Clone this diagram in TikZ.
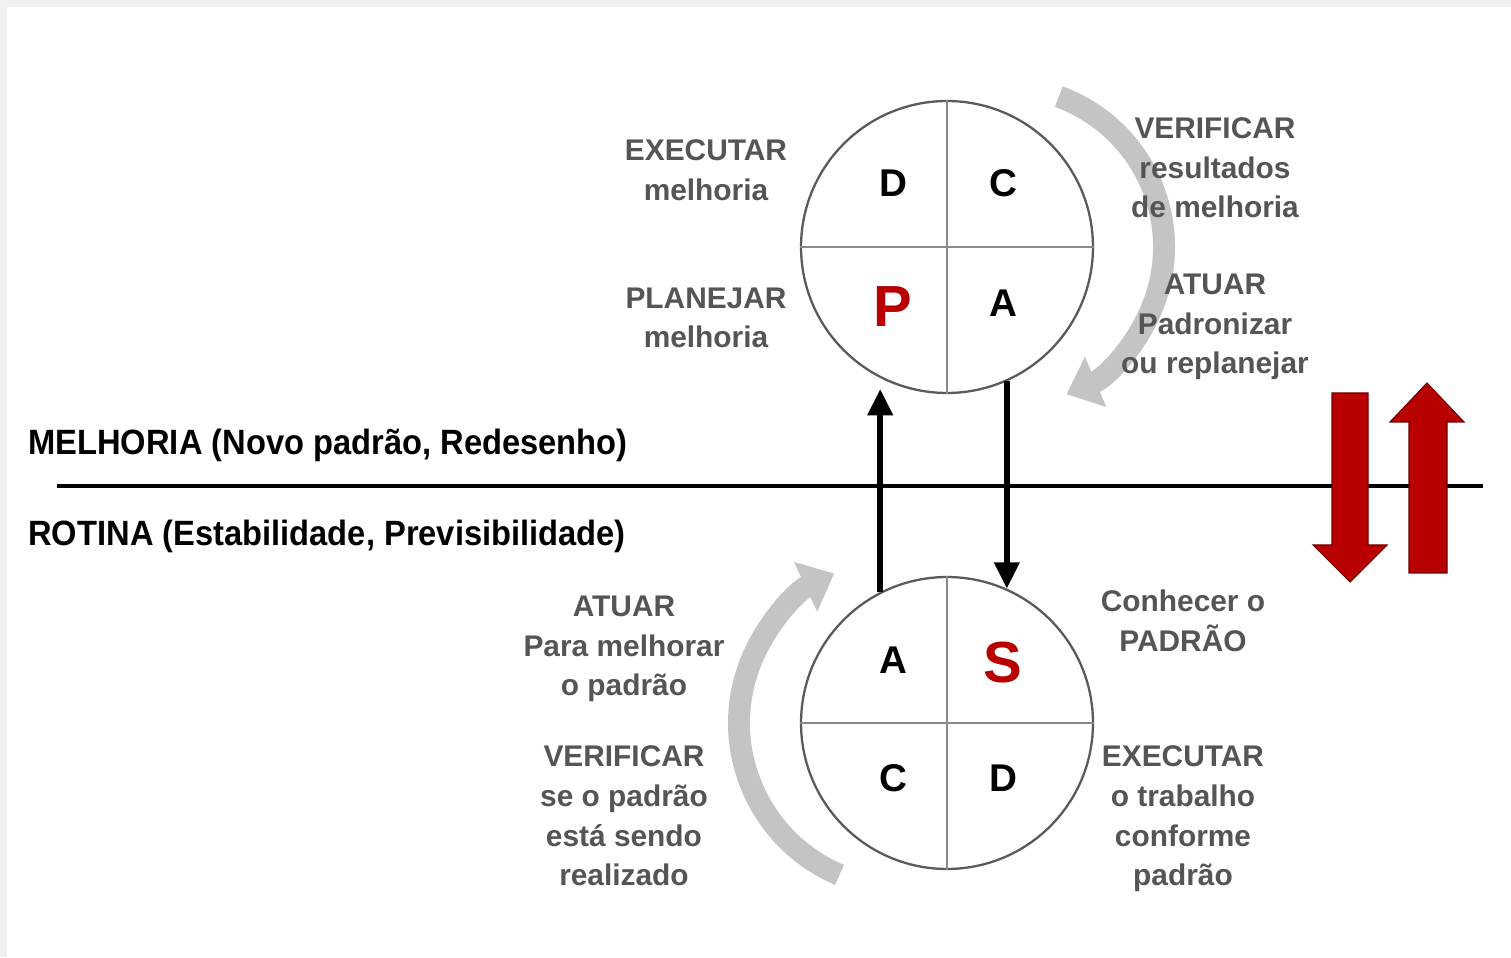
\documentclass[tikz,border=0pt]{standalone}
\usepackage{fontspec}
\setmainfont{Liberation Sans}
\newfontfamily\narrowfont{Liberation Sans}[FakeStretch=0.93]
\usetikzlibrary{arrows.meta}
\definecolor{txtgray}{HTML}{555555}
\definecolor{rimgray}{HTML}{5A5A5A}
\definecolor{linegray}{HTML}{8A8A8A}
\definecolor{swooshgray}{HTML}{C4C4C4}
\definecolor{darkred}{HTML}{B80000}
\definecolor{redline}{HTML}{6E0000}
\definecolor{pagegray}{HTML}{F0F0F0}

\begin{document}
\begin{tikzpicture}[
        x=0.02cm, y=0.02cm,
        >={Triangle[width=14pt,length=15pt]},
        cycle/.style={circle, draw=rimgray, line width=1.3pt, minimum size=5.84cm, inner sep=0pt},
        quad/.style={draw=linegray, line width=0.9pt},
        letter/.style={font=\bfseries\fontsize{22}{26}\selectfont, inner sep=0pt},
        bigletter/.style={font=\bfseries\fontsize{33}{36}\selectfont, text=darkred, inner sep=0pt},
        lbl/.style={font=\bfseries\fontsize{17}{22.6}\selectfont, text=txtgray, align=center, inner sep=0pt},
        level/.style={font=\narrowfont\bfseries\fontsize{20}{24}\selectfont, anchor=base west, inner sep=0pt},
        swoosh/.style={draw=swooshgray, line width=12.5pt, -{Triangle[width=30pt,length=18pt]}},
        jump/.style={->, line width=3.2pt},
        block/.style={fill=darkred, draw=redline, line width=0.6pt}
        ]
        \useasboundingbox (0,0) rectangle (1511,957);
        \fill[pagegray] (0,0) rectangle (1511,957);
        \fill[white] (7,0) rectangle (1511,950);

        % grey turning arrows
        \coordinate (pturn) at (1004,710);
        \coordinate (sturn) at (904,234);
        \draw[swoosh] (pturn) ++(70:160) arc[start angle=70, end angle=-67, radius=3.2cm];
        \draw[swoosh] (sturn) ++(247:165) arc[start angle=247, end angle=115, radius=3.3cm];

        % divider
        \coordinate (divL) at (57,471);
        \coordinate (divR) at (1483,471);
        \draw[line width=2.1pt] (divL) -- (divR);
        \node[level] (melhoria) at (28,502) {MELHORIA (Novo padrão, Redesenho)};
        \node[level] (rotina) at (28,411) {ROTINA (Estabilidade, Previsibilidade)};

        % the two cycles
        \node[cycle] (pdca) at (947,710) {};
        \node[cycle] (sdca) at (947,234) {};
        \draw[quad] (pdca.north) -- (pdca.south) (pdca.west) -- (pdca.east);
        \draw[quad] (sdca.north) -- (sdca.south) (sdca.west) -- (sdca.east);

        \node[letter] (pD) at (893,774) {D};
        \node[letter] (pC) at (1003,774) {C};
        \node[bigletter] (pP) at (893,650) {P};
        \node[letter] (pA) at (1003,654) {A};
        \node[letter] (sA) at (893,297) {A};
        \node[bigletter] (sS) at (1003,294) {S};
        \node[letter] (sC) at (893,179) {C};
        \node[letter] (sD) at (1003,179) {D};

        \path[jump]
              (sdca.117) edge[shorten >=0.22cm] (pdca.243)
              (pdca.294) edge (sdca.66);

        % red level arrows
        \filldraw[block] (1332,564) -- (1368,564) -- (1368,412) -- (1387,412) -- (1350,375) -- (1313,412) -- (1332,412) -- cycle;
        \filldraw[block] (1409,384) -- (1447,384) -- (1447,535) -- (1464,535) -- (1427,574) -- (1390,535) -- (1409,535) -- cycle;

        % step texts
        \node[lbl] (execM) at (706,787) {EXECUTAR\\melhoria};
        \node[lbl] (planM) at (706,639) {PLANEJAR\\melhoria};
        \node[lbl] (verM) at (1215,789) {VERIFICAR\\resultados\\de melhoria};
        \node[lbl] (atuM) at (1215,630) {ATUAR\\Padronizar\\ou replanejar};
        \node[lbl] (atuR) at (624,308) {ATUAR\\Para melhorar\\o padrão};
        \node[lbl] (verR) at (624,141) {VERIFICAR\\se o padrão\\está sendo\\realizado};
        \node[lbl] (conR) at (1183,336) {Conhecer o\\PADRÃO};
        \node[lbl] (exeR) at (1183,138) {EXECUTAR\\o trabalho\\conforme\\padrão};
\end{tikzpicture}
\end{document}
